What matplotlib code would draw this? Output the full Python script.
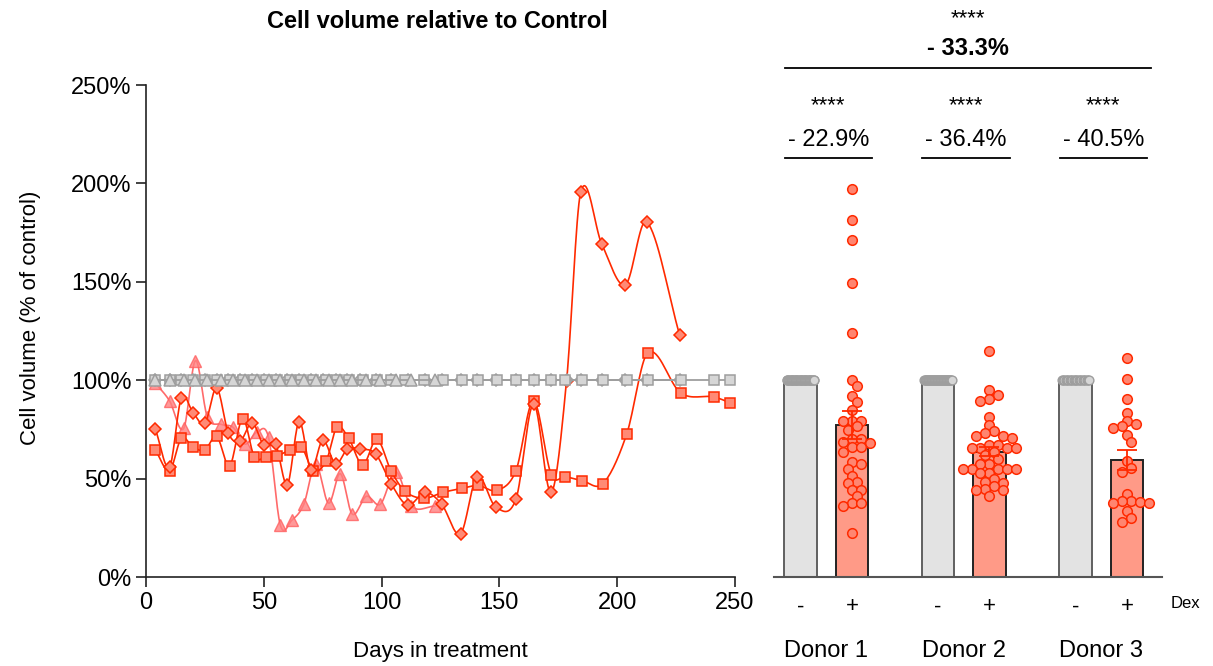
import matplotlib
matplotlib.use('Agg')

import matplotlib.pyplot as plt
import numpy as np
from matplotlib.ticker import FuncFormatter
from matplotlib.transforms import blended_transform_factory

plt.rcParams['font.family'] = ['Liberation Sans', 'DejaVu Sans']

# ---- time course (days in treatment, % of control) ----
d_days = [4, 10, 15, 20, 25, 30, 35, 40, 45, 50, 55, 60, 65, 70, 75, 80.5, 85.5, 91,
          97.5, 104, 111, 118.5, 125.5, 133.5, 140.5, 148.5, 157, 164.5, 172, 178.5,
          184.5, 193.5, 203.5, 212.5, 226.5]
d_vals = [75, 56, 91, 83.5, 78, 96, 73, 69, 78.5, 67, 67.5, 47, 79, 54.5, 69.5, 57.5,
          65, 65, 62.5, 47.5, 36.5, 43, 37, 22, 51, 35.5, 39.5, 88, 43, 99.5,
          195.5, 169, 148.5, 180.5, 123]

s_days = [4, 10, 15, 20, 25, 30, 35.5, 41, 46, 51, 55.5, 61, 66, 71, 76.5, 81, 86, 92,
          98, 104, 110, 118, 126, 134, 141, 149, 157, 164.5, 172, 178, 185, 194, 204,
          213, 227, 241, 248]
s_vals = [64.5, 54, 70.5, 66, 64.5, 71.5, 56.5, 80.5, 61, 61, 61.5, 64.5, 66, 54, 59,
          76, 70.5, 57, 70, 54, 43.5, 40, 43, 45, 46.5, 44, 54, 89.5, 52, 51, 49, 47.5,
          72.5, 114, 93.5, 91.5, 88.5]

t_days = [4, 10, 16, 21, 26, 32, 37, 42, 47, 52, 57, 62, 67, 72, 77.5, 82.5, 87.5,
          93.5, 99.5, 106, 112.5, 122.5]
t_vals = [98.5, 89.5, 75.5, 110, 81.5, 77.5, 76, 67.5, 73.5, 71, 26.5, 29, 37, 57.5,
          37.5, 52.5, 32, 41, 37, 53.5, 36, 36]

control_level = 100.0

# ---- per-donor summary ----
donors = ['Donor 1', 'Donor 2', 'Donor 3']
dex_mean = [77.1, 63.6, 59.5]
dex_sem = [7.0, 2.3, 5.2]
reduction = ['- 22.9%', '- 36.4%', '- 40.5%']
overall = '- 33.3%'

dots_1 = [197, 181.5, 171, 149.5, 124, 100, 97, 92, 89, 85, 79.5, 79.5, 79.5, 76.5,
          74.5, 70, 70, 68.5, 68, 66, 66, 63.5, 58.5, 57.5, 55, 51.5, 48.5, 48, 44,
          44, 41, 37.5, 37.5, 36, 22.5]
dots_2 = [115, 95, 92.5, 90.5, 89.5, 81.5, 77, 74, 73, 71.5, 71.5, 70.5, 67, 67, 65.5,
          65.5, 65.5, 65.5, 63.5, 62, 60, 57.5, 57.5, 55, 55, 55, 55, 55, 53, 53, 50,
          48.5, 48, 46, 44.5, 44, 44, 41]
dots_3 = [111.5, 100.5, 90.5, 83.5, 79.5, 77.5, 76.5, 75.5, 72, 68.5, 59, 55.5, 53.5,
          42, 38.5, 38.5, 38, 37.5, 37.5, 33.5, 30, 28]
dex_dots = [dots_1, dots_2, dots_3]


def spline(x, y, n=16):
    x = np.asarray(x, float)
    y = np.asarray(y, float)
    m = np.zeros_like(y)
    m[1:-1] = (y[2:] - y[:-2]) / (x[2:] - x[:-2])
    m[0] = (y[1] - y[0]) / (x[1] - x[0])
    m[-1] = (y[-1] - y[-2]) / (x[-1] - x[-2])
    xs, ys = [], []
    t = np.linspace(0, 1, n, endpoint=False)
    for i in range(len(x) - 1):
        h = x[i + 1] - x[i]
        h00 = 2 * t**3 - 3 * t**2 + 1
        h10 = t**3 - 2 * t**2 + t
        h01 = -2 * t**3 + 3 * t**2
        h11 = t**3 - t**2
        xs.append(x[i] + t * h)
        ys.append(h00 * y[i] + h10 * h * m[i] + h01 * y[i + 1] + h11 * h * m[i + 1])
    xs.append([x[-1]])
    ys.append([y[-1]])
    return np.concatenate(xs), np.concatenate(ys)


def swarm(vals, d=9.0, xpx=51.5, ypx=1.97):
    # simple column-style beeswarm in pixel space
    placed = []
    offs = []
    for v in vals:
        y = v * ypx
        k = 0
        while True:
            cands = [0.0] if k == 0 else [k * d / 2, -k * d / 2]
            ok = None
            for c in cands:
                if all((c - px) ** 2 + (y - py) ** 2 >= (d * 0.8) ** 2 for px, py in placed):
                    ok = c
                    break
            if ok is not None:
                placed.append((ok, y))
                offs.append(ok / xpx)
                break
            k += 1
    return np.array(offs)


W, H = 1213, 666
fig = plt.figure(figsize=(W / 100, H / 100), dpi=100)

red = '#FF2A00'
red_fill = '#FF8A75'
gray_edge = '#9E9E9E'
gray_fill = '#D6D6D6'

# ---------------- left: time course ----------------
ax1 = fig.add_axes([146 / W, 89 / H, 589 / W, 492 / H])

sx, sy = spline(t_days, t_vals)
ax1.plot(sx, sy, color='#FF6A6A', lw=1.2, zorder=2)
ax1.plot(t_days, t_vals, ls='none', marker='^', ms=8, mfc='#FF8080', mec='#FF6060',
         alpha=0.8, zorder=3)
for days, vals, mk, ms in [(s_days, s_vals, 's', 7), (d_days, d_vals, 'D', 6.5)]:
    sx, sy = spline(days, vals)
    ax1.plot(sx, sy, color=red, lw=1.2, zorder=4)
    ax1.plot(days, vals, ls='none', marker=mk, ms=ms, mfc=red_fill, mec=red, mew=1.1,
             zorder=5)

for days, mk, ms in [(d_days, 'D', 6.5), (s_days, 's', 7), (t_days, '^', 8)]:
    ax1.plot(days, [control_level] * len(days), color=gray_edge, lw=1.3, marker=mk,
             ms=ms, mfc=gray_fill, mec=gray_edge, mew=1.1, zorder=6)

ax1.set_xlim(0, 250)
ax1.set_ylim(0, 250)
ax1.set_xticks(np.arange(0, 251, 50))
ax1.set_yticks(np.arange(0, 251, 50))
ax1.yaxis.set_major_formatter(FuncFormatter(lambda v, p: '%d%%' % v))
for s in ['top', 'right']:
    ax1.spines[s].set_visible(False)
for s in ['left', 'bottom']:
    ax1.spines[s].set_linewidth(1.2)
    ax1.spines[s].set_color('#222222')
ax1.tick_params(direction='out', length=7, width=1.2, labelsize=17, color='#222222')

fig.text(437 / W, 1 - 22 / H, 'Cell volume relative to Control', fontsize=17,
         fontweight='bold', ha='center', va='center')
fig.text(440 / W, 1 - 652 / H, 'Days in treatment', fontsize=16, ha='center',
         va='center')
fig.text(31 / W, 1 - 318 / H, 'Cell volume (% of control)', fontsize=16, ha='center',
         va='center', rotation=90)

# ---------------- right: bars per donor ----------------
ax2 = fig.add_axes([774 / W, 89 / H, 388 / W, 492 / H])
ctrl_pos = np.arange(3) * 2.67
dex_pos = ctrl_pos + 1
bw = 0.64

ax2.bar(ctrl_pos, [control_level] * 3, width=bw, color='#E3E3E3', edgecolor='#606060',
        lw=1.4, zorder=2)
ax2.bar(dex_pos, dex_mean, width=bw, color='#FF9A87', edgecolor='#222222', lw=1.4,
        zorder=2)

for i, vals in enumerate(dex_dots):
    n = len(vals)
    ax2.scatter(ctrl_pos[i] + np.linspace(-0.27, 0.27, n), [control_level] * n, s=40,
                color=gray_fill, edgecolor=gray_edge, lw=1.0, zorder=3, clip_on=False)
    ax2.scatter(dex_pos[i] + swarm(vals), vals, s=48, color='#FF8570', edgecolor=red,
                lw=1.1, zorder=4, clip_on=False)
    ax2.errorbar(dex_pos[i], dex_mean[i], yerr=dex_sem[i], color=red, lw=1.3,
                 capsize=7, capthick=1.3, zorder=5)

ax2.set_xlim(-0.515, 7.02)
ax2.set_ylim(0, 250)
for s in ['top', 'right', 'left']:
    ax2.spines[s].set_visible(False)
ax2.spines['bottom'].set_color('#555555')
ax2.spines['bottom'].set_linewidth(1.5)
ax2.set_yticks([])
ax2.set_xticks(np.ravel(np.column_stack([ctrl_pos, dex_pos])))
ax2.set_xticklabels(['-', '+'] * 3)
ax2.tick_params(axis='x', length=0, labelsize=16, pad=14)
fig.text(1185 / W, 1 - 603 / H, 'Dex', fontsize=12, ha='center', va='center')

tr = blended_transform_factory(ax2.transData, fig.transFigure)
for i, name in enumerate(donors):
    xc = (ctrl_pos[i] + dex_pos[i]) / 2
    ax2.text(xc, 1 - 651 / H, name, transform=tr, fontsize=17, ha='center',
             va='center')
    x0, x1 = ctrl_pos[i] - 0.31, dex_pos[i] + 0.39
    ax2.plot([x0, x1], [213, 213], color='black', lw=1.3, clip_on=False)
    ax2.text((x0 + x1) / 2, 219, reduction[i], fontsize=17, ha='center', va='baseline')
    ax2.text((x0 + x1) / 2, 236.5, '****', fontsize=16, ha='center', va='baseline')

x0, x1 = ctrl_pos[0] - 0.31, dex_pos[-1] + 0.47
ax2.plot([x0, x1], [258.5, 258.5], color='black', lw=1.3, clip_on=False)
ax2.text((x0 + x1) / 2, 265, overall, fontsize=17, fontweight='bold', ha='center',
         va='baseline')
ax2.text((x0 + x1) / 2, 281, '****', fontsize=16, ha='center', va='baseline')

fig.savefig('out.png', dpi=100)
plt.close(fig)
